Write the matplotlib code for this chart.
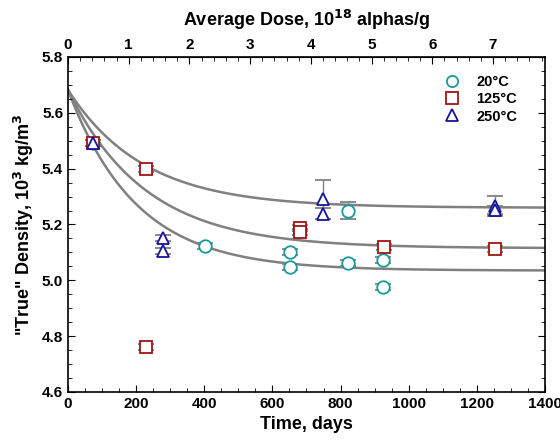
import numpy as np
import matplotlib
matplotlib.use("Agg")
import matplotlib.pyplot as plt
from matplotlib.ticker import MultipleLocator

plt.rcParams['font.family'] = ['Liberation Sans', 'DejaVu Sans']
plt.rcParams['font.weight'] = 'bold'
plt.rcParams['mathtext.default'] = 'bf'

# 20 C
t20 = [73, 402, 652, 652, 822, 822, 924, 924]
d20 = [5.492, 5.123, 5.102, 5.048, 5.062, 5.250, 5.073, 4.976]
e20 = [0.01, 0.01, 0.01, 0.01, 0.01, 0.03, 0.01, 0.01]
# 125 C
t125 = [73, 229, 229, 681, 681, 927, 1253]
d125 = [5.492, 5.399, 4.761, 5.187, 5.173, 5.119, 5.112]
e125 = [0.01, 0.01, 0.01, 0.01, 0.01, 0.01, 0.01]
# 250 C
t250 = [73, 279, 279, 748, 748, 1253, 1253]
d250 = [5.492, 5.152, 5.105, 5.291, 5.238, 5.266, 5.252]
e250 = [0.01, 0.01, 0.01, 0.07, 0.02, 0.035, 0.015]

# fitted curves: asymptote, rate
d0 = 5.682
fits = [(5.260, 0.0045), (5.115, 0.0044), (5.035, 0.0050)]

days_per_dose = 178.2

fig = plt.figure(figsize=(5.6, 4.46), dpi=100)
ax = fig.add_axes([0.1214, 0.1211, 0.8518, 0.7511])

t = np.linspace(0, 1400, 400)
for dinf, k in fits:
    ax.plot(t, dinf + (d0 - dinf) * np.exp(-k * t), color='#808080', lw=1.8, zorder=1)

ebkw = dict(ecolor='#808080', elinewidth=1, capsize=6, capthick=1, ls='none', ms=9,
            mfc='white', mew=1.3, zorder=3)
ax.errorbar(t20, d20, yerr=e20, marker='o', mec='#17999a', label='20°C', **ebkw)
ax.errorbar(t125, d125, yerr=e125, marker='s', mec='#a01414', label='125°C', **ebkw)
ax.errorbar(t250, d250, yerr=e250, marker='^', mec='#14149c', label='250°C', **ebkw)

ax.set_xlim(0, 1400)
ax.set_ylim(4.6, 5.8)
ax.xaxis.set_major_locator(MultipleLocator(200))
ax.xaxis.set_minor_locator(MultipleLocator(50))
ax.yaxis.set_major_locator(MultipleLocator(0.2))
ax.yaxis.set_minor_locator(MultipleLocator(0.05))
ax.yaxis.set_major_formatter(plt.FuncFormatter(lambda v, p: f'{v:.1f}'))
ax.tick_params(which='both', direction='in', right=True, labelsize=11)
ax.tick_params(which='major', length=5)
ax.tick_params(which='minor', length=3)
for s in ax.spines.values():
    s.set_linewidth(1.2)

ax.set_xlabel('Time, days', fontsize=13, fontweight='bold')
ax.set_ylabel('"True" Density, 10$^3$ kg/m$^3$', fontsize=13, fontweight='bold')

top = ax.secondary_xaxis('top', functions=(lambda x: x / days_per_dose, lambda x: x * days_per_dose))
top.xaxis.set_major_locator(MultipleLocator(1))
top.xaxis.set_minor_locator(MultipleLocator(0.2))
top.tick_params(which='both', direction='in', labelsize=11)
top.tick_params(which='major', length=5)
top.tick_params(which='minor', length=3)
top.set_xlabel('Average Dose, 10$^{18}$ alphas/g', fontsize=13, fontweight='bold', labelpad=9)

h, l = ax.get_legend_handles_labels()
h = [x[0] for x in h]
ax.legend(h, l, loc='upper right', bbox_to_anchor=(0.97, 0.985), frameon=False, fontsize=10.5,
          handletextpad=1.2, labelspacing=0.22, handlelength=1.0, markerscale=0.9)

fig.savefig('out.png', dpi=100)
